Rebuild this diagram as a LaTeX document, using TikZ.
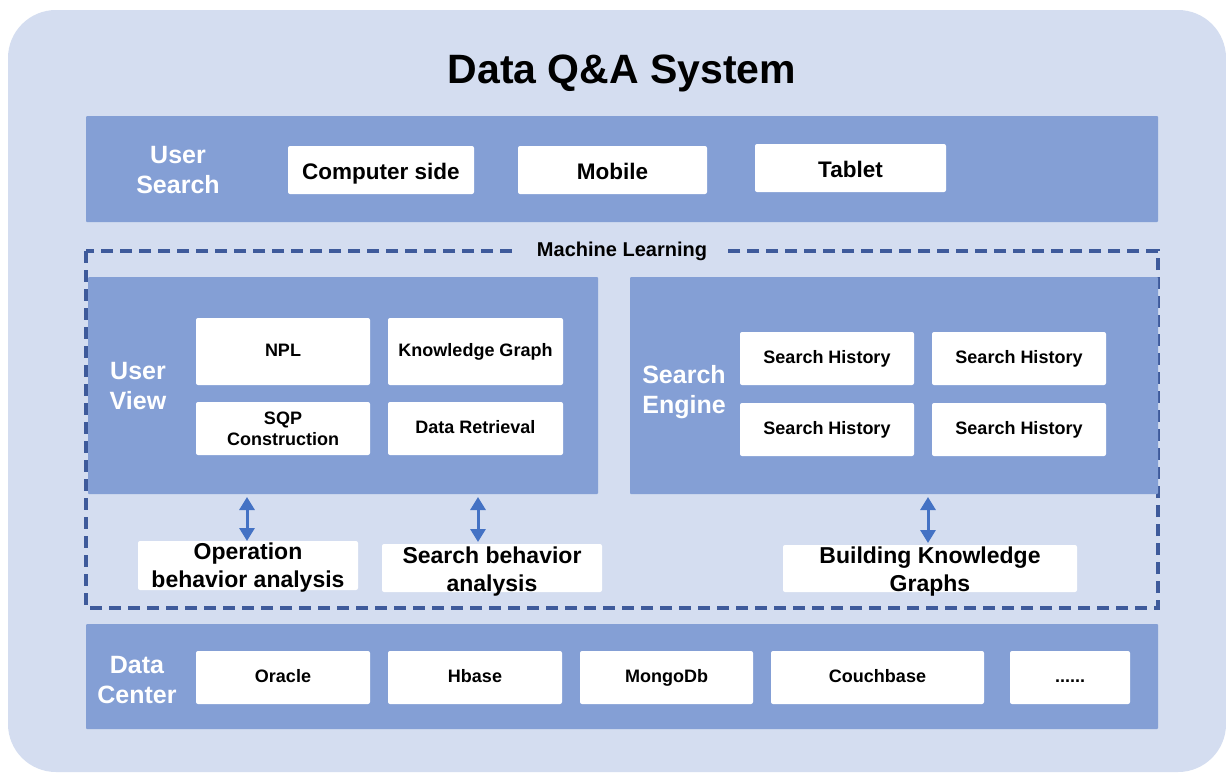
\documentclass[tikz,border=0pt]{standalone}
\usepackage{fontspec}
\setmainfont{Liberation Sans}
\usetikzlibrary{arrows.meta}
\definecolor{bgc}{HTML}{D4DDF0}
\definecolor{bandc}{HTML}{849FD5}
\definecolor{dashc}{HTML}{3E5A9B}
\definecolor{arrc}{HTML}{4472C4}
\tikzset{
  band/.style={fill=bandc, draw=none, inner sep=0pt, rounded corners=1pt},
  wbox/.style={fill=white, draw=none, inner sep=0pt, rounded corners=2pt, font=\fontsize{18}{21}\selectfont\bfseries, align=center, text=black},
  sl/.style={text height=13.5pt, text depth=3.3pt},
  slbig/.style={text height=20pt, text depth=2pt},
  bigbox/.style={fill=white, draw=none, inner sep=0pt, rounded corners=2pt},
  bigtxt/.style={font=\fontsize{23}{28}\selectfont\bfseries, align=center, text=black, inner sep=0pt},
  toptxt/.style={font=\fontsize{22.5}{26}\selectfont\bfseries, text=black},
  sidelbl/.style={font=\fontsize{25}{30}\selectfont\bfseries, text=white, align=center, inner sep=0pt},
  dbl/.style={draw=arrc, line width=3pt, {Triangle[width=15pt,length=13pt]}-{Triangle[width=15pt,length=13pt]}},
}
\begin{document}
\begin{tikzpicture}[x=1pt,y=-1pt]
\useasboundingbox (0,0) rectangle (1226,774);
\fill[white] (0,0) rectangle (1226,774);
\fill[bgc, rounded corners=48pt] (8,10) rectangle (1226,772);

\node[font=\fontsize{41}{46}\selectfont\bfseries, text height=29.5pt, text depth=0pt, inner sep=0pt] (title) at (622,69) {Data Q\&A System};

% User Search band
\node[band, minimum width=1072pt, minimum height=106pt] (us) at (622,169) {};
\node[sidelbl] (uslbl) at (178,170) {User\\Search};
\node[bigbox, minimum width=186pt, minimum height=48pt, toptxt, slbig] (cs) at (381,170) {Computer side};
\node[bigbox, minimum width=189pt, minimum height=48pt, toptxt, slbig] (mob) at (612.5,170) {Mobile};
\node[bigbox, minimum width=191pt, minimum height=48pt, toptxt, slbig] (tab) at (850.5,168) {Tablet};

% Machine learning dashed frame
\draw[dashc, line width=3.2pt, dash pattern=on 12pt off 7pt] (86,251) rectangle (1158,608);
\node[fill=bgc, inner xsep=20pt, inner ysep=4pt, font=\fontsize{20}{24}\selectfont\bfseries] (ml) at (622,251) {Machine Learning};

% User View panel
\node[band, minimum width=510pt, minimum height=217pt] (uv) at (343,385.5) {};
\node[sidelbl] (uvlbl) at (138,386) {User\\View};
\node[wbox, sl, minimum width=174pt, minimum height=67pt] (npl) at (283,351.5) {NPL};
\node[wbox, sl, minimum width=175pt, minimum height=67pt] (kg) at (475.5,351.5) {Knowledge Graph};
\node[wbox, minimum width=174pt, minimum height=53pt] (sqp) at (283,428.5) {SQP\\Construction};
\node[wbox, sl, minimum width=175pt, minimum height=53pt] (dr) at (475.5,428.5) {Data Retrieval};

% Search Engine panel
\node[band, minimum width=528pt, minimum height=217pt] (se) at (894,385.5) {};
\node[sidelbl] (selbl) at (684,392) {Search\\Engine};
\node[wbox, sl, minimum width=174pt, minimum height=53pt] (sh1) at (827,358.5) {Search History};
\node[wbox, sl, minimum width=174pt, minimum height=53pt] (sh2) at (1019,358.5) {Search History};
\node[wbox, sl, minimum width=174pt, minimum height=53pt] (sh3) at (827,429.5) {Search History};
\node[wbox, sl, minimum width=174pt, minimum height=53pt] (sh4) at (1019,429.5) {Search History};

% Analysis boxes
\node[bigbox, minimum width=220pt, minimum height=49pt] (ob) at (248,565.5) {};
\node[bigtxt] (obt) at (248,568) {Operation\\behavior analysis};
\node[bigbox, minimum width=220pt, minimum height=48pt] (sb) at (492,568) {};
\node[bigtxt] (sbt) at (492,571.5) {Search behavior\\analysis};
\node[bigbox, minimum width=294pt, minimum height=47pt] (bk) at (930,568.5) {};
\node[bigtxt] (bkt) at (930,571.5) {Building Knowledge\\Graphs};

% Arrows
\coordinate (a1t) at (247,497); \coordinate (a1b) at (247,541);
\coordinate (a2t) at (478,497); \coordinate (a2b) at (478,542);
\coordinate (a3t) at (928,497); \coordinate (a3b) at (928,543);
\draw[dbl] (a1t) -- (a1b);
\draw[dbl] (a2t) -- (a2b);
\draw[dbl] (a3t) -- (a3b);

% Data Center band
\node[band, minimum width=1072pt, minimum height=105pt] (dc) at (622,676.5) {};
\node[sidelbl] (dclbl) at (137,680) {Data\\Center};
\node[wbox, sl, minimum width=174pt, minimum height=53pt] (ora) at (283,677.5) {Oracle};
\node[wbox, sl, minimum width=174pt, minimum height=53pt] (hb) at (475,677.5) {Hbase};
\node[wbox, sl, minimum width=173pt, minimum height=53pt] (mg) at (666.5,677.5) {MongoDb};
\node[wbox, sl, minimum width=213pt, minimum height=53pt] (cb) at (877.5,677.5) {Couchbase};
\node[wbox, sl, minimum width=120pt, minimum height=53pt] (dots) at (1070,677.5) {......};
\end{tikzpicture}
\end{document}
